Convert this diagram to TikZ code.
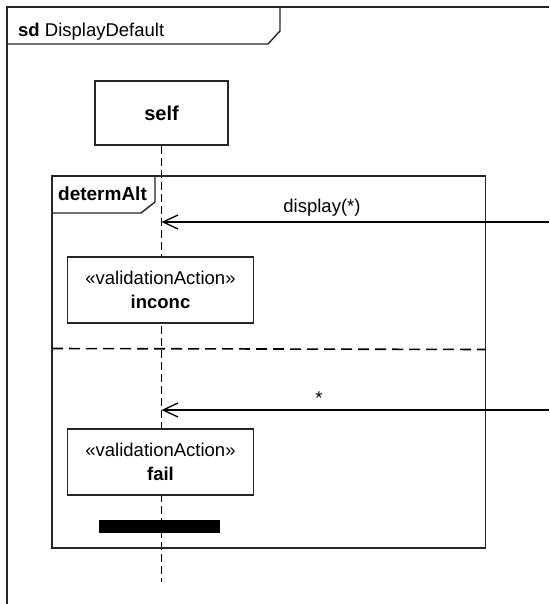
\documentclass[tikz,border=0pt]{standalone}
\usepackage{fontspec}
\setmainfont{Liberation Sans}
\usetikzlibrary{arrows.meta}
\begin{document}
\begin{tikzpicture}[x=1pt,y=-1pt,
  txt/.style={font=\fontsize{18.5}{21}\selectfont, inner sep=0pt},
  frameline/.style={draw=black!85, line width=1.6pt},
  box/.style={draw=black!85, line width=1.4pt, fill=white, align=center, font=\fontsize{18.5}{24}\selectfont},
  lifeline/.style={draw=black, line width=1.6pt, dash pattern=on 8pt off 4pt},
  sepline/.style={draw=black, line width=1.6pt, dash pattern=on 11pt off 6pt},
  msg/.style={draw=black, line width=1.5pt, -{Straight Barb[length=15pt,width=14pt,line width=1.3pt]}}
]
\useasboundingbox (0,0) rectangle (549,604);
\fill[white] (0,0) rectangle (549,604);
% outer frame
\coordinate (ofbl) at (7,604);
\coordinate (oftl) at (7,7);
\coordinate (oftr) at (549,7);
\draw[frameline] (ofbl) -- (oftl) -- (oftr);
\coordinate (hd1) at (280,7);
\coordinate (hd2) at (280,31);
\coordinate (hd3) at (268,44);
\coordinate (hd4) at (7,44);
\draw[frameline, line width=1.4pt] (hd1) -- (hd2) -- (hd3) -- (hd4);
\node[txt, anchor=base west] (sdlabel) at (18,37) {\textbf{sd} DisplayDefault};
% lifeline
\node[box, minimum width=133pt, minimum height=64pt, font=\fontsize{20}{22}\selectfont\bfseries] (self) at (161.5,113) {self};
\coordinate (lifeend) at (161.5,582);
\draw[lifeline] (self.south) -- (lifeend);
% combined fragment
\coordinate (cfA) at (52,176);
\coordinate (cfB) at (485.5,548);
\draw[draw=black!85, line width=1.4pt] (cfA) rectangle (cfB);
\coordinate (cl1) at (155,176);
\coordinate (cl2) at (155,202);
\coordinate (cl3) at (141,213);
\coordinate (cl4) at (52,213);
\draw[draw=black!85, line width=1.4pt] (cl1) -- (cl2) -- (cl3) -- (cl4);
\node[txt, font=\fontsize{19}{21}\selectfont\bfseries, anchor=center] (cflabel) at (102.5,194) {determAlt};
\coordinate (sepL) at (52,348.5);
\coordinate (sepR) at (485.5,349.5);
\draw[sepline] (sepL) -- (sepR);
% messages
\coordinate (m1s) at (549,222);
\draw[msg] (m1s) -- (m1s -| self) coordinate (m1e);
\node[txt, anchor=center] (m1label) at (322,208) {display(*)};
\coordinate (m2s) at (549,410);
\draw[msg] (m2s) -- (m2s -| self) coordinate (m2e);
\node[txt, anchor=center] (m2label) at (319,398) {*};
% actions
\node[box, minimum width=186pt, minimum height=66pt] (inconc) at (160.5,290) {«validationAction»\\\textbf{inconc}};
\node[box, minimum width=186pt, minimum height=66pt] (fail) at (160.5,462) {«validationAction»\\\textbf{fail}};
% stop bar
\node[fill=black, minimum width=121pt, minimum height=13pt, inner sep=0pt] (stopbar) at (159.5,526.5) {};
\end{tikzpicture}
\end{document}
